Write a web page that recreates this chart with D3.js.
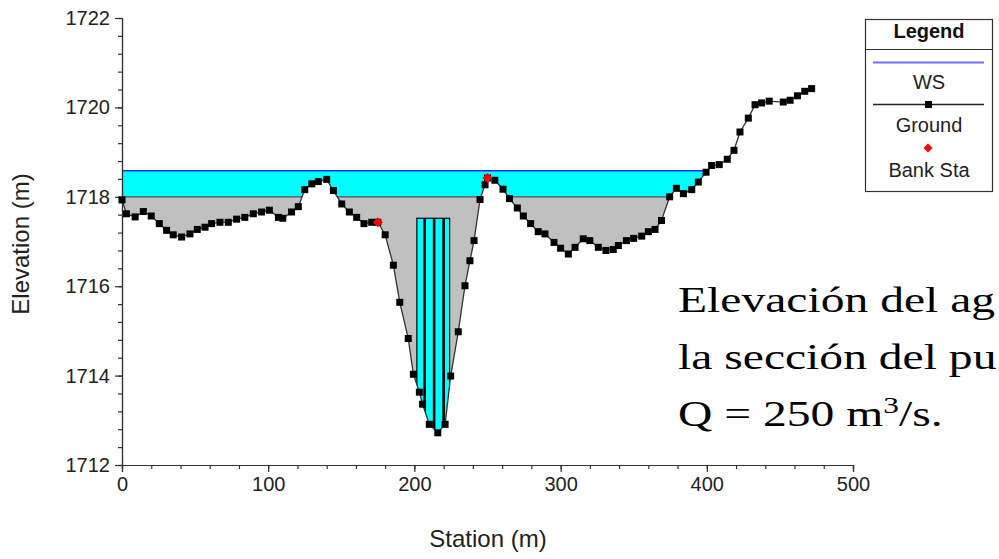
<!DOCTYPE html>
<html><head><meta charset="utf-8">
<script src="https://cdn.jsdelivr.net/npm/d3@7"></script>
<style>body{margin:0;background:#fff;} svg{display:block;}</style>
</head><body><svg id="c" width="999" height="559"></svg>
<script>
// ---- data ----
const stations = [0, 3, 9, 14.6, 20, 25.5, 30.5, 35, 40.8, 46.5, 51.5, 56.8, 61.3, 67, 72.7, 78.4, 84, 89.8, 95.5, 100.8,
  107, 110, 116, 120.6, 125, 129.8, 134.3, 140, 144.6, 150.3, 155.5, 160.5, 165.5, 170.8, 175, 180, 185.6, 190, 195.8,
  199.3, 203.4, 205.6, 210.2, 216, 221, 224.8, 230, 234.6, 238, 240.8, 244.9, 248.3, 250, 255, 260.6, 265, 270.4,
  274.5, 279.5, 284.7, 289.3, 295.5, 300, 305.3, 309.9, 315.5, 320, 325.8, 331, 336, 339.5, 345, 350, 355.5, 360,
  364.6, 369, 374.6, 379.2, 384, 389.7, 394.2, 399.5, 403.3, 408.5, 414, 418.6, 422.7, 428.4, 433, 437.5, 442.7,
  452.3, 457, 462, 467, 471.7];
const elevations = [1717.93, 1717.62, 1717.55, 1717.67, 1717.57, 1717.4, 1717.25, 1717.15, 1717.1, 1717.17, 1717.27,
  1717.32, 1717.4, 1717.43, 1717.43, 1717.5, 1717.54, 1717.62, 1717.66, 1717.7, 1717.54, 1717.52, 1717.66, 1717.78,
  1718.16, 1718.29, 1718.34, 1718.39, 1718.14, 1717.84, 1717.66, 1717.54, 1717.4, 1717.43, 1717.43, 1717.15, 1716.47,
  1715.64, 1714.83, 1714.03, 1713.63, 1713.36, 1712.91, 1712.72, 1712.91, 1713.99, 1714.98, 1716.01, 1716.57, 1717.02,
  1717.94, 1718.27, 1718.42, 1718.37, 1718.17, 1717.96, 1717.75, 1717.57, 1717.4, 1717.22, 1717.17, 1716.98, 1716.85,
  1716.72, 1716.87, 1717.06, 1717.02, 1716.87, 1716.8, 1716.82, 1716.91, 1717.02, 1717.07, 1717.12, 1717.22, 1717.27,
  1717.47, 1718.0, 1718.19, 1718.07, 1718.16, 1718.33, 1718.55, 1718.7, 1718.72, 1718.84, 1719.04, 1719.45, 1719.76,
  1720.06, 1720.1, 1720.14, 1720.12, 1720.16, 1720.26, 1720.36, 1720.42];
const bankStations = [175, 250];
const bankElevations = [1717.43, 1718.42];
const wsElevation = 1718.58;
const ineffectiveElevation = 1718.0;
const pierStations = [201.7, 224.1];
const pierTop = 1717.52;
const pierLines = [207, 213.5, 220];
const xTicks = [0, 100, 200, 300, 400, 500];
const yTicks = [1712, 1714, 1716, 1718, 1720, 1722];
const legendTitle = "Legend";
const legendLabels = ["WS", "Ground", "Bank Sta"];
const xTitle = "Station (m)";
const yTitle = "Elevation (m)";
const noteLines = ["Elevación del ag", "la sección del pu"];
const noteLast = ["Q = 250 m", "3", "/s."];

// ---- drawing ----
const svg = d3.select("#c");
const x = d3.scaleLinear().domain([0, 500]).range([122, 853]);
const y = d3.scaleLinear().domain([1712, 1722]).range([465, 18]);
const ground = stations.map((s, i) => ({s, e: elevations[i]}));
const font = "'Liberation Sans', Arial, sans-serif";

const defs = svg.append("defs");
defs.append("clipPath").attr("id", "above")
  .append("path")
  .attr("d", d3.area().x(d => x(d.s)).y0(0).y1(d => y(d.e))(ground));

const g = svg.append("g").attr("clip-path", "url(#above)");
// water (cyan)
g.append("rect").attr("x", x(0)).attr("width", x(500) - x(0))
  .attr("y", y(wsElevation)).attr("height", y(1712) - y(wsElevation)).attr("fill", "#00ffff");
// grey area
g.append("rect").attr("x", x(0)).attr("width", x(500) - x(0))
  .attr("y", y(ineffectiveElevation)).attr("height", y(1712) - y(ineffectiveElevation)).attr("fill", "#c0c0c0");
g.append("line").attr("x1", x(0)).attr("x2", x(500))
  .attr("y1", y(ineffectiveElevation)).attr("y2", y(ineffectiveElevation))
  .attr("stroke", "#505050").attr("stroke-width", 1.3);
// pier
g.append("rect").attr("x", x(pierStations[0])).attr("width", x(pierStations[1]) - x(pierStations[0]))
  .attr("y", y(pierTop)).attr("height", y(1712) - y(pierTop))
  .attr("fill", "#00ffff").attr("stroke", "#000").attr("stroke-width", 1.2);
g.selectAll("line.pl").data(pierLines).join("line").attr("class", "pl")
  .attr("x1", d => x(d)).attr("x2", d => x(d))
  .attr("y1", y(pierTop)).attr("y2", y(1712))
  .attr("stroke", "#000").attr("stroke-width", 2.6);
// WS line
g.append("line").attr("x1", x(0)).attr("x2", x(500))
  .attr("y1", y(wsElevation)).attr("y2", y(wsElevation))
  .attr("stroke", "#2b2bff").attr("stroke-width", 1.5);

// axes
const xAxis = d3.axisBottom(x).tickValues(xTicks).tickSize(7).tickPadding(5).tickFormat(d3.format("d"));
const xMinor = d3.axisBottom(x).tickValues(d3.range(0, 501, 20)).tickSize(4).tickFormat("");
const yAxis = d3.axisLeft(y).tickValues(yTicks).tickSize(7).tickPadding(5).tickFormat(d3.format("d"));
const yMinor = d3.axisLeft(y).tickValues(d3.range(1712, 1722.01, 0.4)).tickSize(4).tickFormat("");
function style(sel) {
  sel.select(".domain").attr("stroke", "#333").attr("stroke-width", 1.2);
  sel.selectAll(".tick line").attr("stroke", "#333").attr("stroke-width", 1.2);
  sel.selectAll("text").attr("font-family", font).attr("font-size", 20).attr("fill", "#222");
}
svg.append("g").attr("transform", `translate(0,${y(1712)})`).call(xMinor).call(style);
svg.append("g").attr("transform", `translate(0,${y(1712)})`).call(xAxis).call(style);
svg.append("g").attr("transform", `translate(${x(0)},0)`).call(yMinor).call(style);
svg.append("g").attr("transform", `translate(${x(0)},0)`).call(yAxis).call(style);

svg.append("text").attr("x", 488).attr("y", 547).attr("text-anchor", "middle")
  .attr("font-family", font).attr("font-size", 24).attr("fill", "#222").text(xTitle);
svg.append("text").attr("transform", "translate(29,244) rotate(-90)").attr("text-anchor", "middle")
  .attr("font-family", font).attr("font-size", 24).attr("fill", "#222").text(yTitle);

// ground line + markers
svg.append("path").attr("d", d3.line().x(d => x(d.s)).y(d => y(d.e))(ground))
  .attr("fill", "none").attr("stroke", "#333").attr("stroke-width", 1.3);
svg.selectAll("rect.m").data(ground).join("rect").attr("class", "m")
  .attr("x", d => x(d.s) - 3.5).attr("y", d => y(d.e) - 3.5)
  .attr("width", 7).attr("height", 7).attr("fill", "#000");
const diamond = (cx, cy, r) => `M${cx},${cy - r}L${cx + r},${cy}L${cx},${cy + r}L${cx - r},${cy}Z`;
svg.selectAll("path.bank").data(bankStations).join("path").attr("class", "bank")
  .attr("d", (d, i) => diamond(x(d), y(bankElevations[i]), 5)).attr("fill", "#ff0000");

// legend
const L = svg.append("g");
L.append("rect").attr("x", 865.5).attr("y", 19.5).attr("width", 127).attr("height", 172)
  .attr("fill", "#fff").attr("stroke", "#333").attr("stroke-width", 1.2);
L.append("line").attr("x1", 865.5).attr("x2", 992.5).attr("y1", 49.5).attr("y2", 49.5)
  .attr("stroke", "#333").attr("stroke-width", 1.2);
L.append("text").attr("x", 929).attr("y", 38).attr("text-anchor", "middle")
  .attr("font-family", font).attr("font-size", 20).attr("font-weight", "bold").attr("fill", "#111").text(legendTitle);
L.append("line").attr("x1", 873).attr("x2", 984).attr("y1", 62.5).attr("y2", 62.5)
  .attr("stroke", "#6f6fff").attr("stroke-width", 2);
L.append("line").attr("x1", 873).attr("x2", 984).attr("y1", 104.5).attr("y2", 104.5)
  .attr("stroke", "#222").attr("stroke-width", 1.5);
L.append("rect").attr("x", 925).attr("y", 101).attr("width", 7).attr("height", 7).attr("fill", "#000");
L.append("path").attr("d", diamond(928, 148, 4.5)).attr("fill", "#ff0000");
L.selectAll("text.lab").data(legendLabels).join("text").attr("class", "lab")
  .attr("x", 929).attr("y", (d, i) => [89, 131.5, 176.5][i]).attr("text-anchor", "middle")
  .attr("font-family", font).attr("font-size", 20).attr("fill", "#222").text(d => d);

// note text (serif, wide)
const serif = "'Liberation Serif', 'Times New Roman', serif";
const N = svg.append("g").attr("transform", "translate(678,0)");
noteLines.forEach((t, i) => {
  N.append("text").attr("transform", `translate(0,${312 + i * 57}) scale(1.36,1)`)
    .attr("font-family", serif).attr("font-size", 35).attr("fill", "#000").text(t);
});
const t3 = N.append("text").attr("transform", `translate(0,${312 + 2 * 57}) scale(1.36,1)`)
  .attr("font-family", serif).attr("font-size", 35).attr("fill", "#000");
t3.append("tspan").text(noteLast[0]);
t3.append("tspan").attr("font-size", 23).attr("dy", -13).text(noteLast[1]);
t3.append("tspan").attr("dy", 13).text(noteLast[2]);
</script></body></html>
